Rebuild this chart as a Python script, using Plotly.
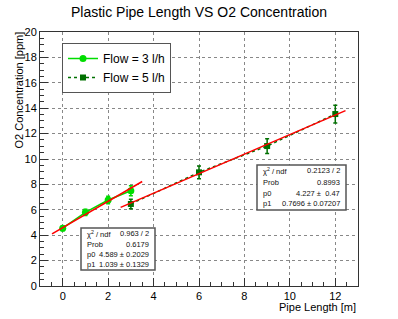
import plotly.graph_objects as go

# ---- data ----
flow3_x = [0, 1, 2, 3]
flow3_y = [4.55, 5.8, 6.77, 7.5]
flow3_err = [0.2, 0.25, 0.3, 0.4]

flow5_x = [3, 6, 9, 12]
flow5_y = [6.46, 8.95, 11.02, 13.54]
flow5_err = [0.37, 0.5, 0.58, 0.7]

fit3_p = [4.589, 1.039]
fit3_range = [-0.47, 3.5]
fit5_p = [4.227, 0.7696]
fit5_range = [2.55, 12.45]

stats3 = [("χ<sup>2</sup> / ndf", "0.963 / 2"), ("Prob", "0.6179"),
          ("p0", "4.589 ± 0.2029"), ("p1", "1.039 ± 0.1329")]
stats5 = [("χ<sup>2</sup> / ndf", "0.2123 / 2"), ("Prob", "0.8993"),
          ("p0", "4.227 ±  0.47"), ("p1", "0.7696 ± 0.07207")]

FONT = "Liberation Sans, Arial, Helvetica, sans-serif"
C3 = "#00dd00"
C5 = "#007000"

# plot area in pixels
L, R, T, B = 40, 358, 32, 286
W, H = 398, 319
def px(x):
    return (x - L) / (R - L)
def py(y):
    return (B - y) / (B - T)

fig = go.Figure()
fig.add_trace(go.Scatter(
    x=flow3_x, y=flow3_y, mode="lines+markers", name="Flow = 3 l/h",
    line=dict(color=C3, width=1.5),
    marker=dict(color=C3, size=7, symbol="circle"),
    error_y=dict(type="data", array=flow3_err, color=C3, thickness=1.5, width=2)))
fig.add_trace(go.Scatter(
    x=flow5_x, y=flow5_y, mode="lines+markers", name="Flow = 5 l/h",
    line=dict(color=C5, width=1.5, dash="dot"),
    marker=dict(color=C5, size=6, symbol="square"),
    error_y=dict(type="data", array=flow5_err, color=C5, thickness=1.5, width=2)))

for p, rng in [(fit3_p, fit3_range), (fit5_p, fit5_range)]:
    fig.add_trace(go.Scatter(
        x=rng, y=[p[0] + p[1] * v for v in rng], mode="lines",
        line=dict(color="#ff0000", width=1.6), showlegend=False, hoverinfo="skip"))

shapes = []
annotations = []

def stats_box(rows, x0, x1, y0, y1, row_ys):
    shapes.append(dict(type="rect", xref="paper", yref="paper",
                       x0=px(x0), x1=px(x1), y0=py(y1), y1=py(y0),
                       line=dict(color="#555555", width=1.5), fillcolor="white", layer="above"))
    for (lab, val), ry in zip(rows, row_ys):
        annotations.append(dict(xref="paper", yref="paper", x=px(x0 + 4), y=py(ry),
                                text=lab, showarrow=False, xanchor="left", yanchor="middle",
                                font=dict(size=7.5, family=FONT, color="#111111")))
        annotations.append(dict(xref="paper", yref="paper", x=px(x1 - 4), y=py(ry),
                                text=val, showarrow=False, xanchor="right", yanchor="middle",
                                font=dict(size=7.5, family=FONT, color="#111111")))

stats_box(stats3, 81, 155, 228, 270, [233.5, 244.5, 254.7, 264.5])
stats_box(stats5, 257, 346, 165, 210, [170.7, 182, 193, 203.3])

annotations.append(dict(xref="paper", yref="paper", x=px(199), y=py(12), text="Plastic Pipe Length VS O2 Concentration",
                        showarrow=False, xanchor="center", yanchor="middle",
                        font=dict(size=14, family=FONT, color="black")))
annotations.append(dict(xref="paper", yref="paper", x=1.0, y=py(299), text="Pipe Length [m]",
                        showarrow=False, xanchor="right", yanchor="top",
                        font=dict(size=11, family=FONT, color="black")))
annotations.append(dict(xref="paper", yref="paper", x=px(18), y=py(30), text="O2 Concentration [ppm]",
                        showarrow=False, xanchor="center", yanchor="top", textangle=-90,
                        font=dict(size=11, family=FONT, color="black")))

axis_common = dict(
    showline=True, linecolor="#333333", linewidth=1, mirror=True,
    ticks="inside", ticklen=8, tickcolor="#333333", tickwidth=1,
    showgrid=True, gridcolor="#888888", griddash="dot", gridwidth=1,
    zeroline=False, tickfont=dict(size=11, family=FONT, color="black"),
)
fig.update_xaxes(range=[-1, 13], dtick=2, tick0=0,
                 minor=dict(dtick=0.5, ticks="inside", ticklen=4, tickcolor="#333333", showgrid=False),
                 **axis_common)
fig.update_yaxes(range=[0, 20], dtick=2, tick0=0,
                 minor=dict(dtick=0.5, ticks="inside", ticklen=4, tickcolor="#333333", showgrid=False),
                 **axis_common)

fig.update_layout(
    width=W, height=H,
    margin=dict(l=L, r=W - R, t=T, b=H - B, autoexpand=False),
    paper_bgcolor="white", plot_bgcolor="white",
    font=dict(family=FONT),
    showlegend=True,
    legend=dict(x=px(62), y=py(43), xanchor="left", yanchor="top",
                bordercolor="#555555", borderwidth=1, bgcolor="white",
                font=dict(size=12, family=FONT, color="black"),
                tracegroupgap=2, itemwidth=30,
                entrywidth=66, entrywidthmode="pixels"),
    shapes=shapes, annotations=annotations,
)
fig.write_html("out.html", config={"displayModeBar": False},
               post_script="document.body.style.margin='0';")
